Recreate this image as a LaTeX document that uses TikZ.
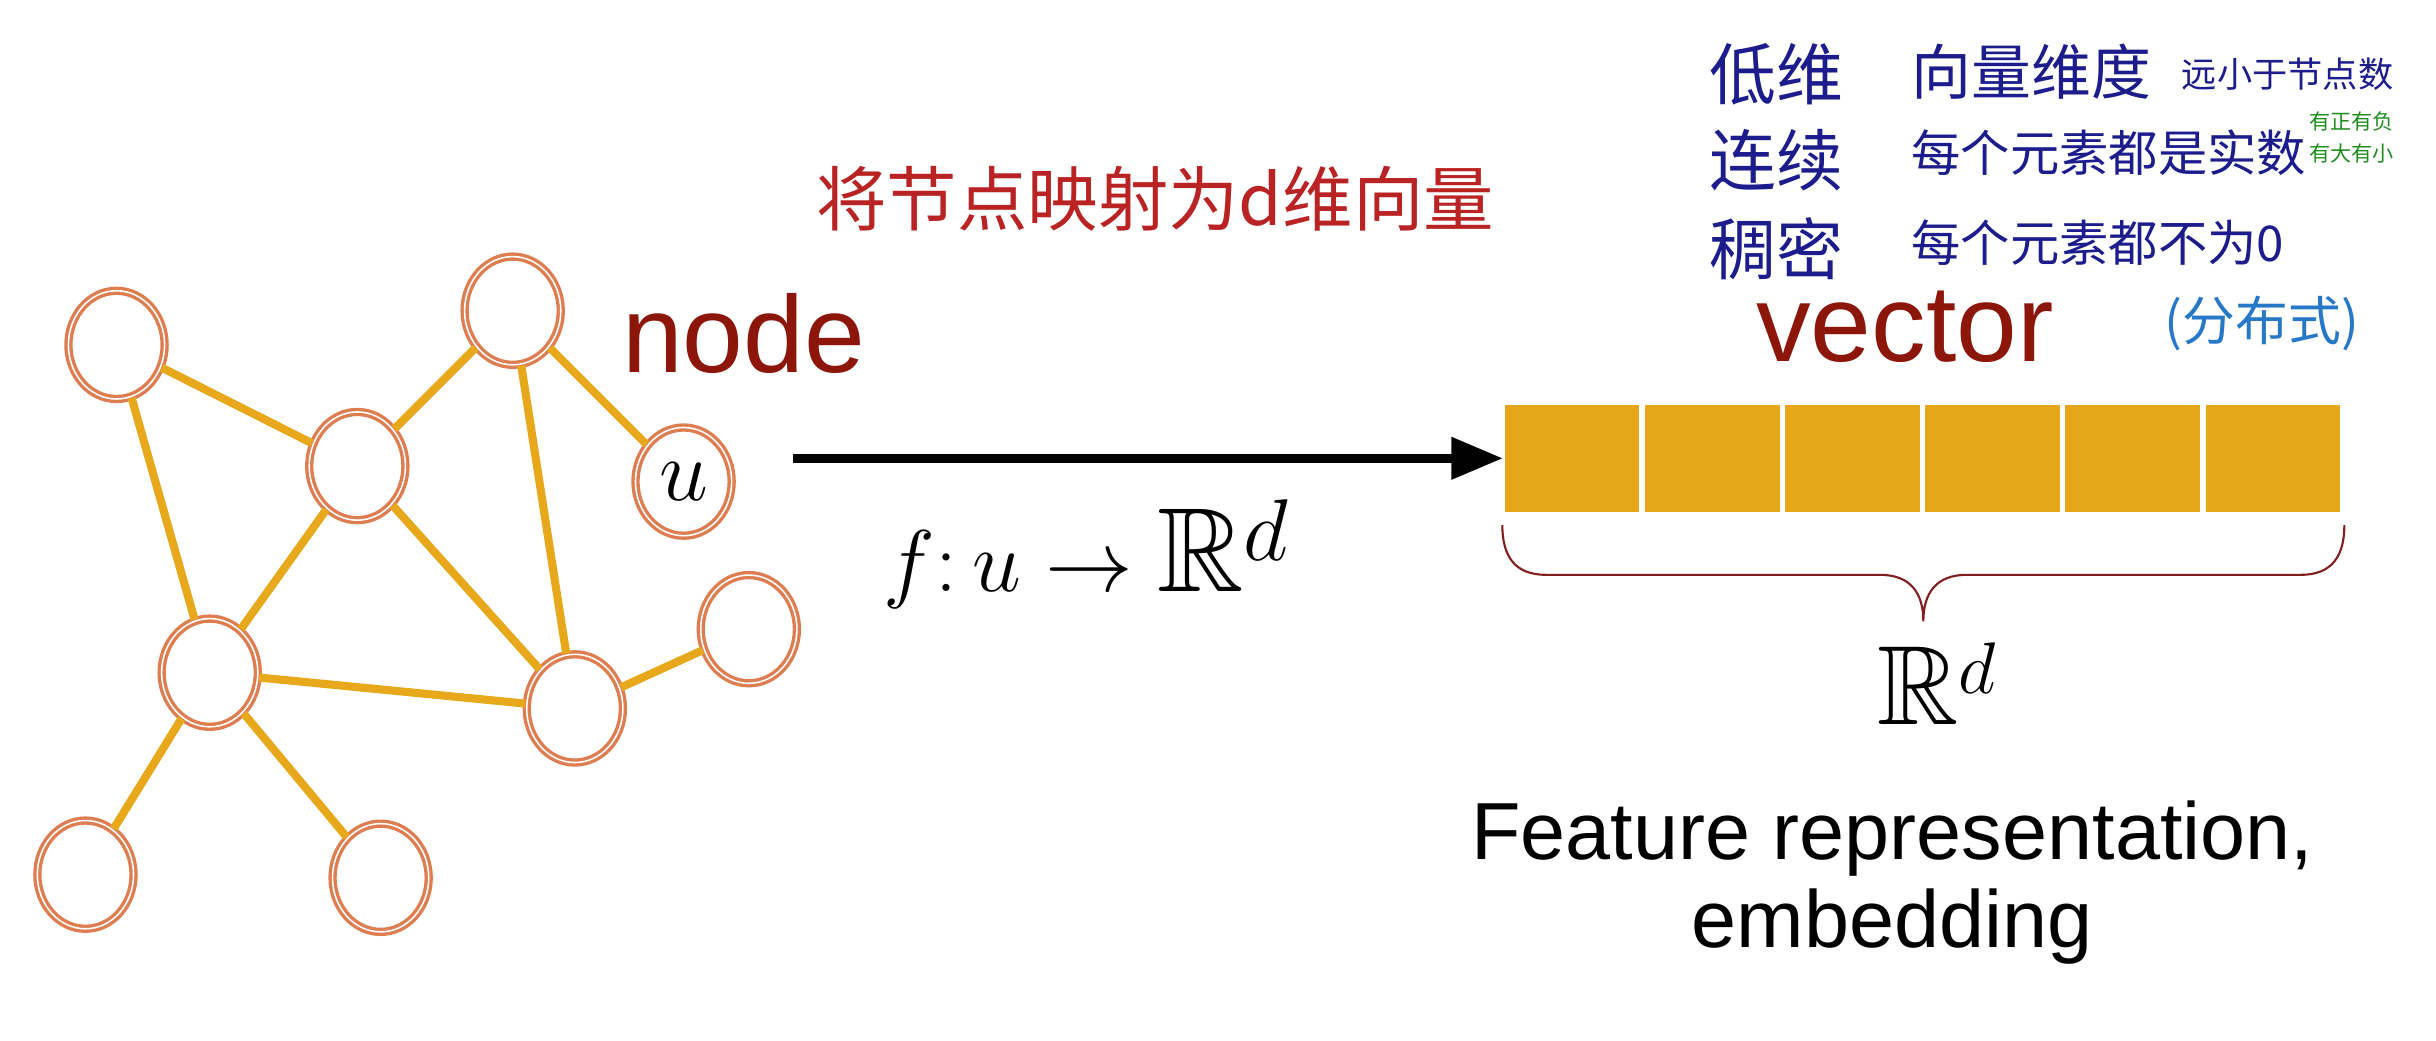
\documentclass[tikz,border=0pt]{standalone}
\usepackage{amssymb,amsmath}
\usepackage{fontspec}
\setmainfont{Liberation Sans}
\newfontfamily\cjk{Noto Sans CJK SC}
\usepackage{tikz}
\usetikzlibrary{arrows,shapes.geometric,positioning}

\definecolor{ringc}{RGB}{222,125,80}
\definecolor{edgec}{RGB}{232,168,28}
\definecolor{cellc}{RGB}{230,167,27}
\definecolor{wordred}{RGB}{140,22,10}
\definecolor{inkblue}{RGB}{28,28,140}
\definecolor{inkred}{RGB}{185,35,35}
\definecolor{inkgreen}{RGB}{30,140,30}
\definecolor{skyblue}{RGB}{40,120,200}
\definecolor{bracec}{RGB}{130,30,30}

\begin{document}
\begin{tikzpicture}[x=0.0155cm,y=-0.0155cm,>=triangle 45,node distance=0pt]
  \tikzstyle{ring}=[ellipse,draw=ringc,line width=0.95pt,double=white,double distance=0.45pt,
                    fill=white,minimum width=0.96cm,minimum height=1.08cm,inner sep=0pt]
  \tikzstyle{link}=[draw=edgec,line width=2.3pt]
  \tikzstyle{cell}=[rectangle,fill=cellc,draw=white,line width=0.8pt,
                    minimum width=1.37cm,minimum height=1.09cm]
  \tikzstyle{word}=[text=wordred,font=\fontsize{31}{31}\selectfont,inner sep=0pt]
  \tikzstyle{ink}=[text=inkblue,inner sep=0pt,anchor=west]

  \useasboundingbox (0,0) rectangle (1568,670);

  % the graph
  \node[ring] (A) at (75,222)  {};
  \node[ring] (B) at (330,200) {};
  \node[ring] (C) at (230,300) {};
  \node[ring,font=\fontsize{26}{26}\selectfont] (u) at (440,310) {$u$};
  \node[ring] (D) at (135,433) {};
  \node[ring] (E) at (370,456) {};
  \node[ring] (F) at (482,405) {};
  \node[ring] (G) at (55,563)  {};
  \node[ring] (H) at (245,565) {};

  \path[link] (A) edge (C)
              (A) edge (D)
              (B) edge (C)
              (B) edge (E)
              (B) edge (u)
              (C) edge (D)
              (C) edge (E)
              (D) edge (E)
              (D) edge (G)
              (D) edge (H)
              (E) edge (F);

  \node[word,anchor=base west] (nodeword) at (400,240) {node};

  % the vector
  \node[cell] (c1) at (1012,295) {};
  \foreach \i [remember=\i as \j (initially 1)] in {2,...,6}
    \node[cell,right=of c\j] (c\i) {};

  \node[word,anchor=base west] (vecword) at (1130,233) {vector};
  \node[text=skyblue,inner sep=0pt,anchor=west,font=\cjk\fontsize{15}{15}\selectfont]
       (dist) at (1393,208) {(分布式)};

  \draw[->,line width=2.4pt,shorten <=0.6cm] (u.east |- c1.west) -- (c1.west)
       node[pos=0.46,below=0.25cm,font=\fontsize{34}{34}\selectfont] (map) {$f{:}\,u\to\mathbb{R}^d$};

  \node[text=inkred,inner sep=0pt,anchor=west,font=\cjk\fontsize{20}{20}\selectfont]
       (title) at (525,128) {将节点映射为d维向量};

  % brace under the vector
  \draw[bracec,line width=0.6pt] (967,338) .. controls (967,358) and (975,370) .. (995,370)
       -- (1210,370) .. controls (1230,370) and (1238,382) .. (1238,400)
       .. controls (1238,382) and (1246,370) .. (1266,370)
       -- (1481,370) .. controls (1501,370) and (1509,358) .. (1509,338);

  \node[font=\fontsize{32}{32}\selectfont] (space) at (1247,440) {$\mathbb{R}^d$};
  \node[align=center,font=\fontsize{23}{25}\selectfont] (feat) at (1218,568)
       {Feature representation,\\embedding};

  % notes
  \node[ink,font=\cjk\fontsize{19}{19}\selectfont] (low) at (1100,48)  {低维};
  \node[ink,font=\cjk\fontsize{19}{19}\selectfont] (cont) at (1100,103) {连续};
  \node[ink,font=\cjk\fontsize{19}{19}\selectfont] (dense) at (1100,160) {稠密};
  \node[ink,font=\cjk\fontsize{17}{17}\selectfont] (lowa) at (1230,46) {向量维度};
  \node[ink,font=\cjk\fontsize{10}{10}\selectfont] (lowb) at (1404,48) {远小于节点数};
  \node[ink,font=\cjk\fontsize{14}{14}\selectfont] (conta) at (1230,98) {每个元素都是实数};
  \node[ink,font=\cjk\fontsize{14}{14}\selectfont] (densea) at (1230,156) {每个元素都不为0};
  \node[ink,text=inkgreen,font=\cjk\fontsize{6}{6}\selectfont] (sign) at (1486,78) {有正有负};
  \node[ink,text=inkgreen,font=\cjk\fontsize{6}{6}\selectfont] (size) at (1486,99) {有大有小};
\end{tikzpicture}
\end{document}
